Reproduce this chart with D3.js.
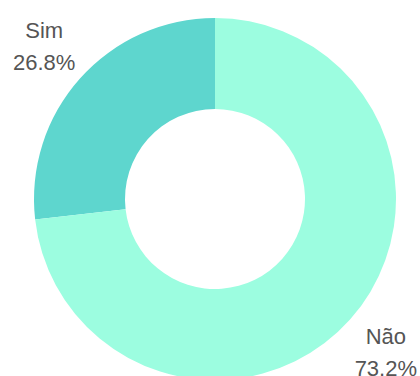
<!DOCTYPE html>
<html>
<head>
<meta charset="utf-8">
<script src="https://cdn.jsdelivr.net/npm/d3@7"></script>
<style>
    html, body { margin: 0; padding: 0; background: #fff; }
    svg { display: block; }
    .label { font-family: "Liberation Sans", Arial, sans-serif; font-size: 22px; fill: #555; }
</style>
</head>
<body>
<div id="chart"></div>
<script>
"use strict";

const categories = ["Sim", "Não"];
const values = [26.8, 73.2];
const colors = ["#5ed6ce", "#9cfde0"];

const width = 420, height = 376;
const cx = 215, cy = 199;
const outerR = 181, innerR = 90, labelR = 229;

const svg = d3.select("#chart")
    .append("svg")
    .attr("width", width)
    .attr("height", height);

const g = svg.append("g")
    .attr("transform", `translate(${cx},${cy})`);

// Slices run counter-clockwise from twelve o'clock.
const pie = d3.pie()
    .sort(null)
    .startAngle(0)
    .endAngle(-2 * Math.PI)
    .value(d => d);
const arcs = pie(values);

const arc = d3.arc()
    .innerRadius(innerR)
    .outerRadius(outerR);
const labelArc = d3.arc()
    .innerRadius(labelR)
    .outerRadius(labelR);

g.selectAll("path.slice")
    .data(arcs)
    .enter()
    .append("path")
    .attr("class", "slice")
    .attr("d", arc)
    .attr("fill", (d, i) => colors[i]);

// Two-line labels: category name and percentage, centred on the mid angle.
const labels = g.selectAll("text.label")
    .data(arcs)
    .enter()
    .append("text")
    .attr("class", "label")
    .attr("text-anchor", "middle")
    .attr("transform", d => `translate(${labelArc.centroid(d)})`);
labels.append("tspan")
    .attr("x", 0)
    .attr("y", -8)
    .text((d, i) => categories[i]);
labels.append("tspan")
    .attr("x", 0)
    .attr("y", 24)
    .text(d => d.data.toFixed(1) + "%");
</script>
</body>
</html>
